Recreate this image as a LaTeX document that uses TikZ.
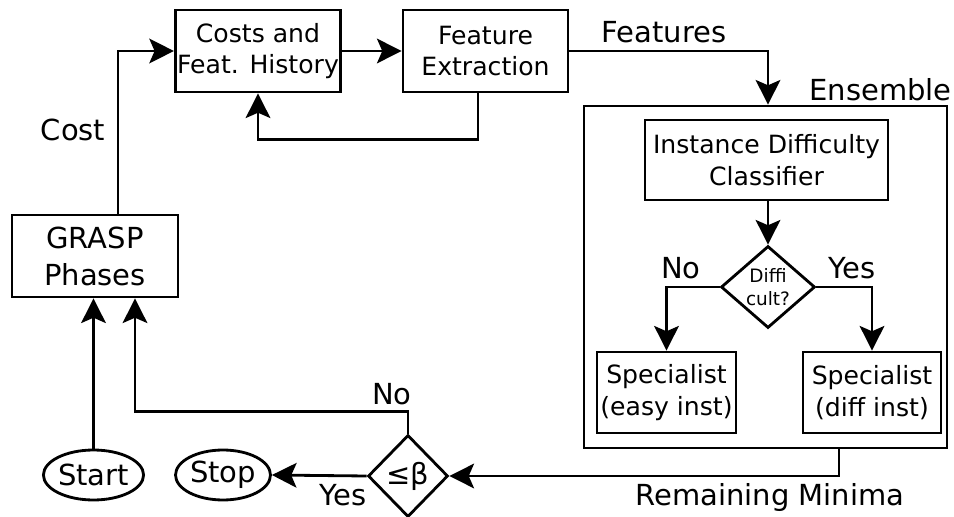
\documentclass[tikz,border=0pt]{standalone}
\usepackage{fontspec}
\setmainfont{DejaVu Sans}
\usetikzlibrary{arrows.meta,shapes.geometric}
\tikzset{
  blk/.style={draw, line width=1.6pt, align=center, inner sep=1pt,
    font=\fontsize{14.3}{18}\selectfont},
  term/.style={draw, ellipse, line width=1.6pt, inner sep=0pt,
    minimum width=1.9cm, minimum height=1cm, font=\fontsize{16.5}{20}\selectfont},
  dec/.style={draw, diamond, line width=1.6pt, inner sep=0pt, align=center},
  lbl/.style={inner sep=0pt, font=\fontsize{16.5}{20}\selectfont},
  arr/.style={line width=1.6pt, -{Stealth[length=14pt, width=14pt, inset=3pt]}}
}

\begin{document}
\begin{tikzpicture}[x=0.02cm, y=-0.02cm]
\useasboundingbox (0,0) rectangle (954,517);
% boxes
\node[blk, minimum width=3.28cm, minimum height=1.64cm] (hist) at (258,51) {Costs and\\Feat. History};
\node[blk, minimum width=3.3cm, minimum height=1.64cm] (feat) at (485.5,51) {Feature\\Extraction};
\node[blk, minimum width=3.32cm, minimum height=1.64cm, font=\fontsize{16.5}{21}\selectfont] (grasp) at (95,256) {GRASP\\Phases};
\node[draw, line width=1.6pt, minimum width=7.26cm, minimum height=6.84cm] (ens) at (765.5,277) {};
\node[lbl, anchor=base east] (enslbl) at (952,101) {Ensemble};
\node[blk, minimum width=4.86cm, minimum height=1.6cm] (cls) at (766.5,160) {Instance Difficulty\\Classifier};
\node[dec, minimum width=1.88cm, minimum height=1.54cm, font=\fontsize{10.5}{13.5}\selectfont] (dif) at (768,287) {Diffi\\cult?};
\node[blk, minimum width=2.78cm, minimum height=1.62cm] (easy) at (666.5,392.5) {Specialist\\(easy inst)};
\node[blk, minimum width=2.76cm, minimum height=1.62cm] (hard) at (872,392.5) {Specialist\\(diff inst)};
\node[dec, minimum width=1.6cm, minimum height=1.64cm, font=\fontsize{16.5}{20}\selectfont] (beta) at (408,476) {≤β};
\node[term] (start) at (93.5,475) {Start};
\node[term] (stop) at (223,475) {Stop};

% labels
\node[lbl] (costlbl) at (73,130) {Cost};
\node[lbl] (featlbl) at (664,32) {Features};
\node[lbl] (nolbl) at (681,268) {No};
\node[lbl] (yeslbl) at (852,268) {Yes};
\node[lbl] (remlbl) at (770,498) {Remaining Minima};
\node[lbl] (nolbl2) at (392,394) {No};
\node[lbl] (yeslbl2) at (343,495) {Yes};

% connectors
\draw[arr] ([xshift=0.46cm]grasp.north) |- (hist.west);
\draw[arr] (hist) -- (feat);
\draw[arr] ([xshift=-0.15cm]feat.south) -- ++(0,46) -| (hist.south);
\draw[arr] (feat.east) -| ([xshift=0.05cm]ens.north);
\draw[arr] (cls.south -| dif.north) -- (dif.north);
\draw[arr] (dif.west) -| (easy.north);
\draw[arr] (dif.east) -| (hard.north);
\draw[arr] ([xshift=1.47cm]ens.south) |- (beta.east);
\draw[arr] (beta.north) -- ++(0,-22) -| ([xshift=0.8cm]grasp.south);
\draw[arr] (beta.west) -- (stop.east);
\draw[arr] (start.north) -- (start.north |- grasp.south);
\end{tikzpicture}
\end{document}
